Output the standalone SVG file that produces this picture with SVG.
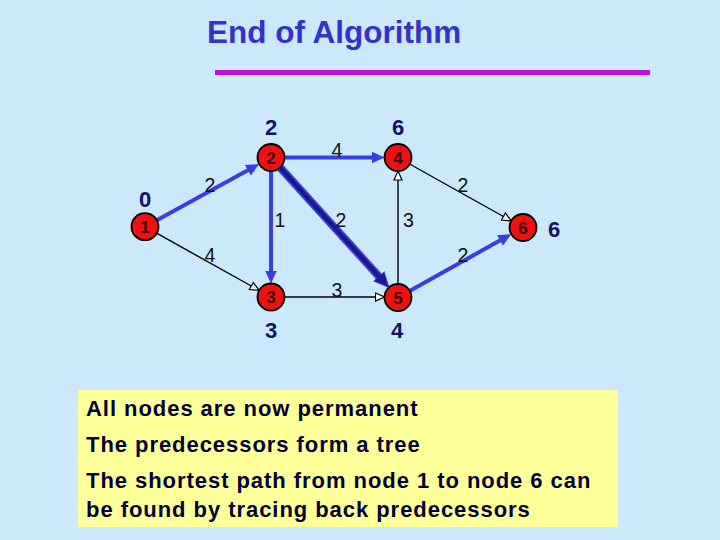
<svg xmlns="http://www.w3.org/2000/svg" width="720" height="540" viewBox="0 0 720 540">
<style>
.title{font-family:"Liberation Sans",Arial,sans-serif;font-size:31.5px;font-weight:bold;fill:#3333cc}
.dist{font-family:"Liberation Sans",Arial,sans-serif;font-size:22px;font-weight:bold;fill:#121262;text-anchor:middle}
.elab{font-family:"Liberation Sans",Arial,sans-serif;font-size:19.5px;fill:#111111;text-anchor:middle}
.nnum{font-family:"Liberation Sans",Arial,sans-serif;font-size:17px;font-weight:bold;fill:#3a0000;text-anchor:middle}
.node{fill:#ee1111;stroke:#000000;stroke-width:1.8}
.tree{stroke:#3c3ce2;stroke-width:4;fill:none}
.plain{stroke:#000000;stroke-width:1.4;fill:none}
.body{font-family:"Liberation Sans",Arial,sans-serif;font-size:22px;font-weight:bold;fill:#000033;letter-spacing:0.95px}
</style>
<defs>
<marker id="ab" markerUnits="userSpaceOnUse" markerWidth="14" markerHeight="12" refX="1" refY="6" orient="auto" viewBox="0 0 14 12">
<path d="M0,0 L13,6 L0,12 z" fill="#3c3ce2"/>
</marker>
<marker id="an" markerUnits="userSpaceOnUse" markerWidth="16" markerHeight="16" refX="1" refY="8" orient="auto" viewBox="0 0 16 16">
<path d="M0,1 L15,8 L0,15 z" fill="#1a1a8a" stroke="#3c3ce2" stroke-width="1"/>
</marker>
<marker id="ao" markerUnits="userSpaceOnUse" markerWidth="12" markerHeight="10" refX="0" refY="5" orient="auto" viewBox="-1 0 12 10">
<path d="M0,1 L9,5 L0,9 z" fill="#ffffff" stroke="#000000" stroke-width="1.2"/>
</marker>
</defs>
<rect x="0" y="0" width="720" height="540" fill="#cbe9fb"/>
<text class="title" x="207" y="43">End of Algorithm</text>
<line x1="215" y1="72.5" x2="650" y2="72.5" stroke="#bb11dd" stroke-width="5"/>
<g id="connectors">
<line class="plain" x1="145" y1="226.7" x2="251.3" y2="286" marker-end="url(#ao)"/>
<line class="plain" x1="271" y1="297" x2="375.5" y2="297" marker-end="url(#ao)"/>
<line class="plain" x1="398" y1="297.5" x2="398" y2="180" marker-end="url(#ao)"/>
<line class="plain" x1="398" y1="157.5" x2="503.4" y2="216.5" marker-end="url(#ao)"/>
<line class="tree" x1="145" y1="226.7" x2="248.7" y2="169.8" marker-end="url(#ab)"/>
<line class="tree" x1="271" y1="157.5" x2="372.5" y2="157.5" marker-end="url(#ab)"/>
<line class="tree" x1="271" y1="157.5" x2="271" y2="271.5" marker-end="url(#ab)"/>
<line x1="271" y1="157.5" x2="379.5" y2="277.1" stroke="#3c3ce2" stroke-width="8"/>
<line x1="271" y1="157.5" x2="379.5" y2="277.1" stroke="#1a1a8a" stroke-width="4.5" marker-end="url(#an)"/>
<line class="tree" x1="398" y1="297.5" x2="500.8" y2="240" marker-end="url(#ab)"/>
</g>
<g id="edge-labels">
<text class="elab" x="210" y="192">2</text>
<text class="elab" x="337" y="157">4</text>
<text class="elab" x="280" y="227">1</text>
<text class="elab" x="341" y="227">2</text>
<text class="elab" x="408.5" y="227">3</text>
<text class="elab" x="463" y="192">2</text>
<text class="elab" x="210" y="262">4</text>
<text class="elab" x="463" y="262">2</text>
<text class="elab" x="337" y="297">3</text>
</g>
<g id="node1"><circle class="node" cx="145" cy="226.7" r="13.5"/><text class="nnum" x="145" y="233">1</text><text class="dist" x="145" y="207">0</text></g>
<g id="node2"><circle class="node" cx="271" cy="157.5" r="13.5"/><text class="nnum" x="271" y="163.8">2</text><text class="dist" x="271" y="135">2</text></g>
<g id="node3"><circle class="node" cx="271" cy="297" r="13.5"/><text class="nnum" x="271" y="303.3">3</text><text class="dist" x="271" y="338">3</text></g>
<g id="node4"><circle class="node" cx="398" cy="157.5" r="13.5"/><text class="nnum" x="398" y="163.8">4</text><text class="dist" x="398" y="135">6</text></g>
<g id="node5"><circle class="node" cx="398" cy="297.5" r="13.5"/><text class="nnum" x="398" y="303.8">5</text><text class="dist" x="397" y="338">4</text></g>
<g id="node6"><circle class="node" cx="523" cy="227.5" r="13.5"/><text class="nnum" x="523" y="233.8">6</text><text class="dist" x="554" y="237">6</text></g>
<g id="note">
<rect x="78" y="390" width="540" height="137" fill="#ffff99"/>
<text class="body" x="86" y="416">All nodes are now permanent</text>
<text class="body" x="86" y="452">The predecessors form a tree</text>
<text class="body" x="86" y="488">The shortest path from node 1 to node 6 can</text>
<text class="body" x="86" y="517">be found by tracing back predecessors</text>
</g>
</svg>
